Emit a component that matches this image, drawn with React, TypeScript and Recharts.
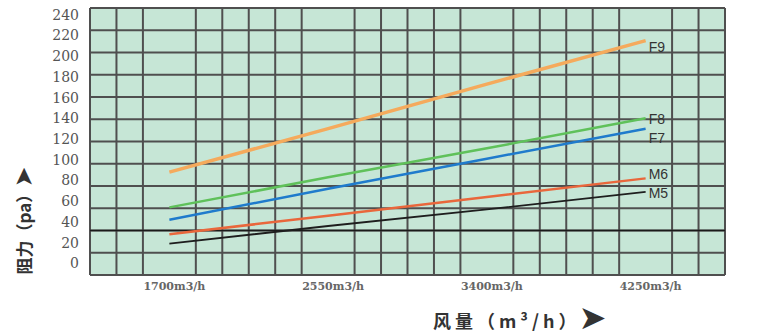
import {
  LineChart,
  Line,
  XAxis,
  YAxis,
  CartesianGrid,
  ReferenceLine,
  LabelList,
} from "recharts";

// airflow (m3/h) and resistance (pa) per filter grade
const airflow = [1700, 2550, 3400, 4250];
const xTickLabels = ["1700m3/h", "2550m3/h", "3400m3/h", "4250m3/h"];
const yTicks = [0, 20, 40, 60, 80, 100, 120, 140, 160, 180, 200, 220, 240];

const f9 = [88, 130, 173, 215];
const f8 = [54, 83, 111, 140];
const f7 = [42, 72, 101, 130];
const m6 = [28, 46, 64, 82];
const m5 = [19, 36, 52, 69];

const seriesNames = ["F9", "F8", "F7", "M6", "M5"];
const seriesValues = [f9, f8, f7, m6, m5];

// styling only
const colors = ["#f5aa5c", "#5fc15a", "#1f7bcc", "#e9673c", "#1e1e1e"];
const widths = [3.5, 2.5, 2.5, 2.5, 1.8];
const labelDy = [6, 1, 9, -4, 1];

// axis ranges; the background grid is 24 columns x 12 rows across them
const xDomain = [1275, 4675];
const yDomain = [-11.3, 246.5];
const gridCols = Array.from(
  { length: 25 },
  (_, i) => xDomain[0] + (i * (xDomain[1] - xDomain[0])) / 24
);
const gridRows = Array.from(
  { length: 13 },
  (_, i) => yDomain[0] + (i * (yDomain[1] - yDomain[0])) / 12
);

const data = airflow.map((x, i) => {
  const row: Record<string, number> = { x };
  seriesNames.forEach((name, s) => {
    row[name] = seriesValues[s][i];
  });
  return row;
});

function endLabel(name: string, dy: number) {
  return (props: any) => {
    const { x, y, index } = props;
    if (index !== airflow.length - 1) return null;
    return (
      <text
        x={x + 3}
        y={y + dy}
        dy="0.35em"
        fontFamily="Liberation Sans, Arial, sans-serif"
        fontSize={14}
        fill="#333"
      >
        {name}
      </text>
    );
  };
}

export default function App() {
  return (
    <div
      style={{
        position: "absolute",
        left: 0,
        top: 0,
        width: 765,
        height: 332,
        background: "#fff",
      }}
    >
      <LineChart
        width={765}
        height={332}
        data={data}
        margin={{ top: 8, right: 40, bottom: 0, left: 50 }}
      >
        <XAxis
          dataKey="x"
          type="number"
          domain={xDomain}
          ticks={airflow}
          tickFormatter={(v: number) => xTickLabels[airflow.indexOf(v)]}
          axisLine={false}
          tickLine={false}
          tickSize={0}
          tickMargin={7}
          height={57}
          tick={{
            fontFamily: "DejaVu Serif",
            fontSize: 11,
            fontWeight: "bold",
            fill: "#666",
            dx: 5,
          }}
        />
        <YAxis
          type="number"
          domain={yDomain}
          ticks={yTicks}
          interval={0}
          axisLine={false}
          tickLine={false}
          tickSize={0}
          tickMargin={11}
          width={40}
          allowDataOverflow
          tick={{ fontFamily: "DejaVu Serif", fontSize: 14, fill: "#555" }}
        />
        <CartesianGrid
          verticalValues={gridCols}
          horizontalValues={gridRows}
          stroke="#4f4f4f"
          strokeWidth={2}
          fill="#c6e6d6"
          fillOpacity={1}
        />
        <ReferenceLine y={gridRows[2]} stroke="#1a1a1a" strokeWidth={1.5} />
        {seriesNames.map((name, s) => (
          <Line
            key={name}
            dataKey={name}
            type="linear"
            stroke={colors[s]}
            strokeWidth={widths[s]}
            dot={false}
            isAnimationActive={false}
          >
            <LabelList dataKey={name} content={endLabel(name, labelDy[s])} />
          </Line>
        ))}
      </LineChart>
      <div
        style={{
          position: "absolute",
          left: 22,
          top: 221,
          transform: "translate(-50%, -50%) rotate(-90deg)",
          whiteSpace: "nowrap",
          fontFamily: "Noto Sans CJK SC, sans-serif",
          fontSize: 17,
          fontWeight: "bold",
          color: "#333",
          lineHeight: "26px",
        }}
      >
        阻力（pa）<span style={{ fontSize: 22 }}>➤</span>
      </div>
      <div
        style={{
          position: "absolute",
          left: 433,
          top: 298,
          whiteSpace: "nowrap",
          fontFamily: "Noto Sans CJK SC, sans-serif",
          fontSize: 18,
          fontWeight: "bold",
          color: "#333",
          letterSpacing: 4,
          lineHeight: "34px",
        }}
      >
        风量（m³/h）<span style={{ fontSize: 30, letterSpacing: 0 }}>➤</span>
      </div>
    </div>
  );
}
